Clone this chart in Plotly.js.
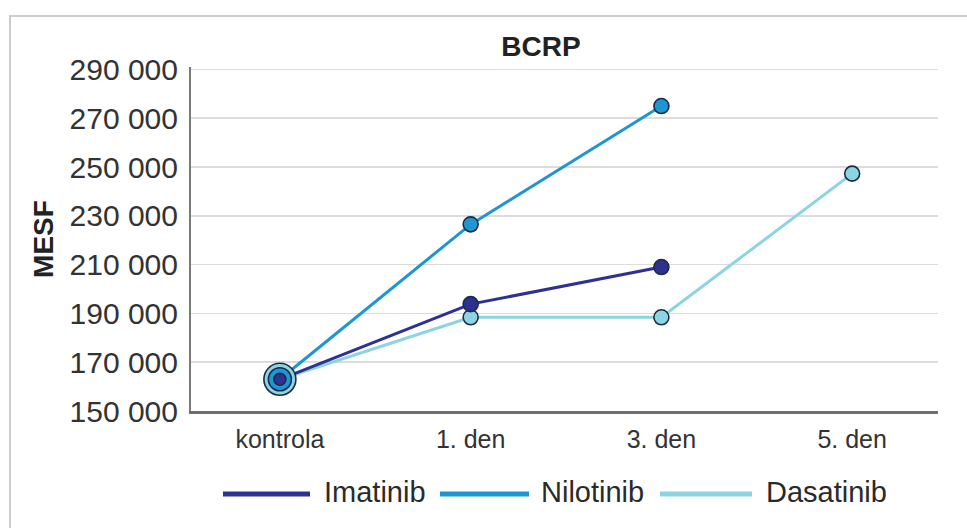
<!DOCTYPE html>
<html><head><meta charset="utf-8">
<script src="https://cdn.plot.ly/plotly-3.0.1.min.js"></script>
<style>
html,body{margin:0;padding:0;background:#fff;}
#wrap{position:relative;width:967px;height:528px;overflow:hidden;}
#chart{width:967px;height:528px;}
#frame{position:absolute;left:9px;top:15px;width:980px;height:540px;border-top:2px solid #cccccc;border-left:2px solid #cccccc;pointer-events:none;}
</style>
</head><body>
<div id="wrap"><div id="chart"></div><div id="frame"></div></div>
<script>
// ---- data ----
const categories = ['kontrola', '1. den', '3. den', '5. den'];
const seriesNames = ['Imatinib', 'Nilotinib', 'Dasatinib'];
const imatinib  = [163000, 193800, 209000, null];
const nilotinib = [163000, 226500, 275000, null];
const dasatinib = [163000, 188400, 188400, 247300];
const yTickValues = [150000, 170000, 190000, 210000, 230000, 250000, 270000, 290000];
const yTickLabels = ['150 000', '170 000', '190 000', '210 000', '230 000', '250 000', '270 000', '290 000'];
const chartTitle = 'BCRP';
const yAxisTitle = 'MESF';

// ---- styles ----
const colors = {Imatinib: '#2d3192', Nilotinib: '#1e96d4', Dasatinib: '#8dd4e2'};
const outline = '#1d2a48';
const FONT = 'Liberation Sans, Arial, sans-serif';
const M = {l: 191, r: 29, t: 67, b: 117};
const W = 967, H = 528;
const PW = W - M.l - M.r, PH = H - M.t - M.b;
const px = x => (x - M.l) / PW;
const py = y => (H - M.b - y) / PH;

const seriesData = {Imatinib: imatinib, Nilotinib: nilotinib, Dasatinib: dasatinib};
const kontrolaSize = {Dasatinib: 32, Nilotinib: 23, Imatinib: 12};

const traces = [];
// lines first (Dasatinib at bottom, Imatinib on top)
['Dasatinib', 'Nilotinib', 'Imatinib'].forEach(name => {
  traces.push({
    type: 'scatter', mode: 'lines', name: name, showlegend: false,
    x: categories, y: seriesData[name],
    line: {color: colors[name], width: 3},
    hoverinfo: 'skip'
  });
});
// markers on top
['Dasatinib', 'Nilotinib', 'Imatinib'].forEach(name => {
  traces.push({
    type: 'scatter', mode: 'markers', name: name, showlegend: false,
    x: categories, y: seriesData[name],
    marker: {
      color: colors[name], opacity: 1,
      size: categories.map((c, i) => i === 0 ? kontrolaSize[name] : 15),
      line: {color: outline, width: 1.6}
    }
  });
});

// custom legend (long line samples)
const legendItems = [
  {name: seriesNames[0], x0: 223, x1: 310, tx: 322},
  {name: seriesNames[1], x0: 440, x1: 529, tx: 539},
  {name: seriesNames[2], x0: 660, x1: 752, tx: 764}
];
const legendY = 494;
const shapes = legendItems.map(it => ({
  type: 'line', xref: 'paper', yref: 'paper',
  x0: px(it.x0), x1: px(it.x1), y0: py(legendY), y1: py(legendY),
  line: {color: colors[it.name], width: 5}
}));
const annotations = legendItems.map(it => ({
  xref: 'paper', yref: 'paper', x: px(it.tx), y: py(legendY - 2),
  xanchor: 'left', yanchor: 'middle', showarrow: false,
  text: it.name, font: {family: FONT, size: 29, color: '#2a2a2a'}
}));

const layout = {
  width: W, height: H,
  margin: M,
  paper_bgcolor: '#fff', plot_bgcolor: '#fff',
  font: {family: FONT, color: '#333'},
  showlegend: false,
  title: {
    text: chartTitle, xref: 'container', yref: 'container',
    x: 541 / W, xanchor: 'center', y: 1 - 46 / H, yanchor: 'middle',
    font: {family: FONT, size: 28, weight: 'bold', color: '#222'}
  },
  xaxis: {
    type: 'category', range: [-0.466, 3.45],
    showline: true, linecolor: '#6e6e6e', linewidth: 2.5,
    showgrid: false, zeroline: false, ticks: '',
    ticklabelstandoff: 4,
    tickfont: {family: FONT, size: 25, color: '#333'}
  },
  yaxis: {
    range: [150000, 291000],
    tickvals: yTickValues, ticktext: yTickLabels,
    showline: true, linecolor: '#7a7a7a', linewidth: 2,
    showgrid: true, gridcolor: '#dcdcdc', gridwidth: 1.5,
    zeroline: false, ticks: '', ticklabelstandoff: 5,
    tickfont: {family: FONT, size: 30, color: '#333'},
    title: {text: yAxisTitle, standoff: 8, font: {family: FONT, size: 28, weight: 'bold', color: '#222'}}
  },
  shapes: shapes,
  annotations: annotations
};

Plotly.newPlot('chart', traces, layout, {displayModeBar: false, staticPlot: true});
</script>
</body></html>
